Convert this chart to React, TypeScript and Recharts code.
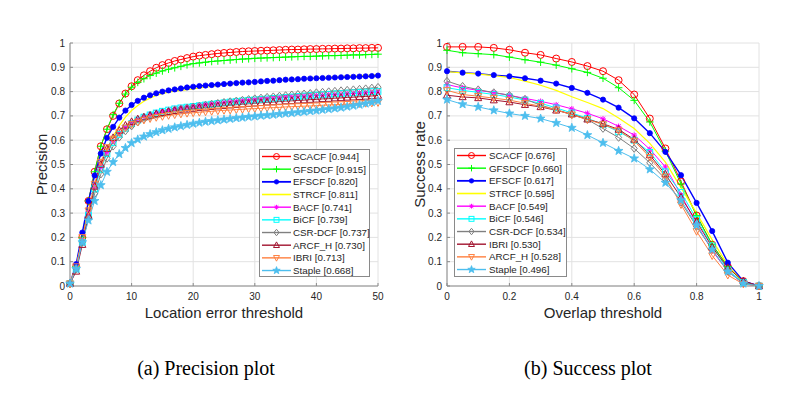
import React from 'react';
import { LineChart, Line, XAxis, YAxis, CartesianGrid, Label } from 'recharts';

// ---------- Precision plot data ----------
const precisionThresholds = [0,1,2,3,4,5,6,7,8,9,10,11,12,13,14,15,16,17,18,19,20,21,22,23,24,25,26,27,28,29,30,31,32,33,34,35,36,37,38,39,40,41,42,43,44,45,46,47,48,49,50];
const precisionSCACF = [0.01,0.08,0.20,0.35,0.47,0.575,0.645,0.70,0.751,0.792,0.822,0.847,0.867,0.884,0.898,0.909,0.918,0.926,0.932,0.938,0.944,0.948,0.951,0.954,0.957,0.959,0.961,0.963,0.965,0.966,0.967,0.968,0.969,0.970,0.971,0.972,0.973,0.973,0.974,0.975,0.975,0.976,0.976,0.977,0.977,0.978,0.978,0.979,0.979,0.980,0.980];
const precisionGFSDCF = [0.01,0.08,0.20,0.35,0.47,0.575,0.645,0.705,0.752,0.790,0.818,0.838,0.853,0.866,0.876,0.885,0.892,0.898,0.904,0.910,0.915,0.918,0.921,0.924,0.926,0.928,0.930,0.932,0.934,0.935,0.937,0.938,0.939,0.940,0.941,0.942,0.943,0.944,0.945,0.945,0.946,0.947,0.948,0.948,0.949,0.950,0.951,0.951,0.952,0.953,0.954];
const precisionEFSCF = [0.01,0.09,0.22,0.35,0.455,0.545,0.61,0.655,0.693,0.722,0.745,0.762,0.775,0.785,0.793,0.800,0.805,0.809,0.813,0.817,0.820,0.823,0.825,0.827,0.829,0.831,0.833,0.835,0.837,0.838,0.840,0.842,0.844,0.845,0.847,0.849,0.850,0.851,0.853,0.854,0.855,0.856,0.857,0.858,0.859,0.860,0.861,0.862,0.863,0.864,0.866];
const precisionSTRCF = [0.01,0.08,0.19,0.31,0.41,0.49,0.56,0.615,0.66,0.695,0.722,0.743,0.760,0.773,0.784,0.792,0.798,0.802,0.805,0.808,0.811,0.815,0.818,0.821,0.824,0.827,0.830,0.832,0.835,0.837,0.839,0.841,0.843,0.845,0.847,0.849,0.851,0.852,0.854,0.855,0.857,0.858,0.860,0.861,0.862,0.864,0.865,0.866,0.867,0.868,0.870];
const precisionBACF = [0.01,0.07,0.19,0.30,0.41,0.49,0.55,0.595,0.628,0.652,0.671,0.686,0.698,0.707,0.715,0.721,0.726,0.731,0.735,0.738,0.741,0.744,0.747,0.750,0.753,0.756,0.758,0.760,0.762,0.764,0.766,0.768,0.770,0.772,0.774,0.776,0.778,0.779,0.781,0.782,0.784,0.785,0.787,0.788,0.790,0.791,0.792,0.794,0.795,0.797,0.798];
const precisionBiCF = [0.01,0.07,0.18,0.29,0.40,0.48,0.545,0.59,0.624,0.649,0.668,0.683,0.695,0.704,0.712,0.719,0.724,0.729,0.733,0.736,0.739,0.742,0.745,0.748,0.751,0.754,0.757,0.759,0.762,0.764,0.766,0.768,0.770,0.772,0.774,0.776,0.778,0.780,0.782,0.784,0.786,0.787,0.789,0.791,0.792,0.794,0.795,0.797,0.798,0.800,0.801];
const precisionCSRDCF = [0.01,0.07,0.18,0.28,0.38,0.46,0.525,0.575,0.612,0.638,0.658,0.674,0.687,0.697,0.706,0.713,0.719,0.725,0.729,0.733,0.737,0.741,0.745,0.749,0.752,0.756,0.759,0.762,0.765,0.768,0.771,0.774,0.777,0.779,0.782,0.784,0.787,0.789,0.791,0.793,0.796,0.798,0.800,0.802,0.804,0.806,0.808,0.810,0.812,0.815,0.818];
const precisionARCFH = [0.01,0.06,0.17,0.29,0.41,0.50,0.565,0.61,0.64,0.661,0.676,0.687,0.695,0.702,0.708,0.713,0.717,0.721,0.724,0.727,0.730,0.733,0.735,0.738,0.740,0.742,0.744,0.746,0.748,0.750,0.752,0.754,0.756,0.757,0.759,0.761,0.762,0.764,0.765,0.767,0.768,0.770,0.771,0.773,0.774,0.776,0.777,0.779,0.780,0.782,0.784];
const precisionIBRI = [0.01,0.08,0.20,0.31,0.42,0.51,0.57,0.605,0.632,0.651,0.665,0.675,0.683,0.689,0.694,0.698,0.702,0.705,0.708,0.711,0.713,0.715,0.717,0.719,0.721,0.723,0.724,0.726,0.727,0.729,0.730,0.731,0.733,0.734,0.735,0.737,0.738,0.739,0.740,0.741,0.742,0.744,0.745,0.746,0.747,0.748,0.750,0.751,0.752,0.753,0.755];
const precisionStaple = [0.01,0.07,0.18,0.27,0.35,0.415,0.47,0.51,0.543,0.568,0.588,0.603,0.615,0.625,0.633,0.641,0.647,0.653,0.658,0.663,0.668,0.672,0.676,0.679,0.682,0.685,0.688,0.691,0.693,0.696,0.698,0.701,0.703,0.705,0.708,0.710,0.712,0.715,0.717,0.720,0.722,0.725,0.728,0.731,0.734,0.738,0.742,0.746,0.751,0.756,0.762];

const precisionNames = ['SCACF', 'GFSDCF', 'EFSCF', 'STRCF', 'BACF', 'BiCF', 'CSR-DCF', 'ARCF_H', 'IBRI', 'Staple'];
const precisionScores = ['0.944', '0.915', '0.820', '0.811', '0.741', '0.739', '0.737', '0.730', '0.713', '0.668'];
const precisionXTicks = [0, 10, 20, 30, 40, 50];
const yTicks = [0, 0.1, 0.2, 0.3, 0.4, 0.5, 0.6, 0.7, 0.8, 0.9, 1];

// ---------- Success plot data ----------
const successThresholds = [0,0.05,0.1,0.15,0.2,0.25,0.3,0.35,0.4,0.45,0.5,0.55,0.6,0.65,0.7,0.75,0.8,0.85,0.9,0.95,1];
const successSCACF = [0.984,0.984,0.984,0.980,0.972,0.960,0.951,0.936,0.922,0.905,0.884,0.847,0.788,0.689,0.566,0.430,0.290,0.170,0.080,0.020,0.000];
const successGFSDCF = [0.970,0.960,0.956,0.952,0.942,0.931,0.921,0.909,0.894,0.879,0.855,0.816,0.764,0.675,0.555,0.420,0.290,0.170,0.080,0.015,0.000];
const successEFSCF = [0.884,0.878,0.874,0.868,0.863,0.855,0.845,0.833,0.815,0.795,0.767,0.734,0.690,0.629,0.552,0.456,0.342,0.226,0.096,0.020,0.000];
const successSTRCF = [0.882,0.877,0.872,0.866,0.858,0.843,0.826,0.805,0.779,0.755,0.730,0.691,0.648,0.587,0.510,0.405,0.300,0.190,0.085,0.015,0.000];
const successBACF = [0.829,0.815,0.805,0.796,0.785,0.772,0.760,0.746,0.729,0.711,0.688,0.657,0.621,0.563,0.490,0.375,0.255,0.145,0.060,0.010,0.000];
const successBiCF = [0.816,0.805,0.797,0.788,0.778,0.765,0.752,0.733,0.712,0.690,0.665,0.635,0.600,0.550,0.470,0.385,0.275,0.165,0.065,0.015,0.000];
const successCSRDCF = [0.843,0.822,0.808,0.796,0.785,0.769,0.744,0.726,0.705,0.685,0.648,0.611,0.566,0.507,0.440,0.345,0.245,0.150,0.060,0.012,0.000];
const successIBRI = [0.785,0.778,0.774,0.765,0.757,0.746,0.737,0.723,0.707,0.686,0.668,0.644,0.603,0.539,0.460,0.365,0.265,0.160,0.075,0.020,0.000];
const successARCFH = [0.805,0.788,0.781,0.773,0.765,0.752,0.740,0.725,0.705,0.685,0.665,0.640,0.597,0.530,0.450,0.335,0.225,0.125,0.045,0.008,0.000];
const successStaple = [0.767,0.748,0.737,0.723,0.710,0.700,0.689,0.671,0.651,0.621,0.589,0.556,0.525,0.480,0.425,0.353,0.250,0.150,0.060,0.010,0.000];

const successNames = ['SCACF', 'GFSDCF', 'EFSCF', 'STRCF', 'BACF', 'BiCF', 'CSR-DCF', 'IBRI', 'ARCF_H', 'Staple'];
const successScores = ['0.676', '0.660', '0.617', '0.595', '0.549', '0.546', '0.534', '0.530', '0.528', '0.496'];
const successXTicks = [0, 0.2, 0.4, 0.6, 0.8, 1];

const captions = ['(a) Precision plot', '(b) Success plot'];

// ---------- tables built from the arrays ----------
const precisionSeries = [precisionSCACF, precisionGFSDCF, precisionEFSCF, precisionSTRCF, precisionBACF, precisionBiCF, precisionCSRDCF, precisionARCFH, precisionIBRI, precisionStaple];
const successSeries = [successSCACF, successGFSDCF, successEFSCF, successSTRCF, successBACF, successBiCF, successCSRDCF, successIBRI, successARCFH, successStaple];

const precisionData = precisionThresholds.map((t, i) => {
  const row: any = { x: t };
  precisionNames.forEach((n, k) => { row[n] = precisionSeries[k][i]; });
  return row;
});
const successData = successThresholds.map((t, i) => {
  const row: any = { x: t };
  successNames.forEach((n, k) => { row[n] = successSeries[k][i]; });
  return row;
});

// ---------- styles (by legend position) ----------
const STYLES = [
  { color: '#ff0000', marker: 'circle', width: 1 },
  { color: '#00ff00', marker: 'plus', width: 1 },
  { color: '#0000ff', marker: 'dot', width: 1.4 },
  { color: '#ffff00', marker: 'none', width: 1.2 },
  { color: '#ff00ff', marker: 'asterisk', width: 1 },
  { color: '#00ffff', marker: 'square', width: 1 },
  { color: '#808080', marker: 'diamond', width: 1 },
  { color: '#a2142f', marker: 'triUp', width: 1 },
  { color: '#ff8040', marker: 'triDown', width: 1 },
  { color: '#4dbeee', marker: 'star', width: 1 },
];

const FONT = '"Liberation Sans", Arial, Helvetica, sans-serif';
const TEXT = '#262626';
const BOX = '#8a8a8a';
const GRID = '#e2e2e2';

function marker(type: string, cx: number, cy: number, color: string, key: string, s = 1) {
  if (cx == null || cy == null || isNaN(cx) || isNaN(cy)) return <g key={key} />;
  switch (type) {
    case 'circle':
      return <circle key={key} cx={cx} cy={cy} r={3.5 * s} fill="none" stroke={color} strokeWidth={1} />;
    case 'plus': {
      const r = 3.8 * s;
      return <path key={key} d={`M${cx - r},${cy}H${cx + r}M${cx},${cy - r}V${cy + r}`} stroke={color} strokeWidth={1} fill="none" />;
    }
    case 'dot':
      return <circle key={key} cx={cx} cy={cy} r={2.6 * s} fill={color} stroke={color} strokeWidth={0.8} />;
    case 'asterisk': {
      const r = 2.8 * s;
      const d = r * 0.75;
      return <path key={key} d={`M${cx - r},${cy}H${cx + r}M${cx},${cy - r}V${cy + r}M${cx - d},${cy - d}L${cx + d},${cy + d}M${cx - d},${cy + d}L${cx + d},${cy - d}`} stroke={color} strokeWidth={1} fill="none" />;
    }
    case 'square': {
      const r = 2.9 * s;
      return <rect key={key} x={cx - r} y={cy - r} width={2 * r} height={2 * r} fill="none" stroke={color} strokeWidth={1} />;
    }
    case 'diamond': {
      const r = 3.8 * s;
      return <path key={key} d={`M${cx},${cy - r}L${cx + r * 0.8},${cy}L${cx},${cy + r}L${cx - r * 0.8},${cy}Z`} fill="none" stroke={color} strokeWidth={1} />;
    }
    case 'triUp': {
      const r = 3.9 * s;
      return <path key={key} d={`M${cx},${cy - r}L${cx + r * 0.9},${cy + r * 0.7}L${cx - r * 0.9},${cy + r * 0.7}Z`} fill="none" stroke={color} strokeWidth={1} />;
    }
    case 'triDown': {
      const r = 3.9 * s;
      return <path key={key} d={`M${cx},${cy + r}L${cx + r * 0.9},${cy - r * 0.7}L${cx - r * 0.9},${cy - r * 0.7}Z`} fill="none" stroke={color} strokeWidth={1} />;
    }
    case 'star': {
      const R = 4.6 * s;
      const rr = 1.9 * s;
      let d = '';
      for (let k = 0; k < 10; k++) {
        const a = -Math.PI / 2 + (k * Math.PI) / 5;
        const rad = k % 2 === 0 ? R : rr;
        d += `${k === 0 ? 'M' : 'L'}${cx + rad * Math.cos(a)},${cy + rad * Math.sin(a)}`;
      }
      return <path key={key} d={d + 'Z'} fill={color} stroke={color} strokeWidth={0.8} />;
    }
    default:
      return <g key={key} />;
  }
}

function LegendBox(props: { names: string[]; scores: string[]; left: number; top: number; width: number; height: number; lineLen: number; textX: number }) {
  const { names, scores, left, top, width, height, lineLen, textX } = props;
  const rowH = 12.67;
  const first = 7.5;
  return (
    <svg width={width} height={height} style={{ position: 'absolute', left, top }}>
      <rect x={0.5} y={0.5} width={width - 1} height={height - 1} fill="#ffffff" stroke={BOX} strokeWidth={1} />
      {names.map((n, i) => {
        const st = STYLES[i];
        const cy = first + i * rowH;
        const x0 = 3;
        const x1 = 3 + lineLen;
        return (
          <g key={n}>
            <line x1={x0} y1={cy} x2={x1} y2={cy} stroke={st.color} strokeWidth={st.width + 0.4} />
            {marker(st.marker, (x0 + x1) / 2, cy, st.color, 'm' + n, 0.85)}
            <text x={textX} y={cy + 3.5} fontSize={9.8} fill={TEXT} fontFamily={FONT}>{`${n} [${scores[i]}]`}</text>
          </g>
        );
      })}
    </svg>
  );
}

function Plot(props: { data: any[]; names: string[]; xTicks: number[]; xDomain: [number, number]; title: string; xLabel: string; yLabel: string; yAxisWidth: number; marginRight: number; yLabelOffset: number }) {
  const { data, names, xTicks, xDomain, title, xLabel, yLabel, yAxisWidth, marginRight, yLabelOffset } = props;
  const tickStyle = { fontSize: 10, fill: TEXT, fontFamily: FONT };
  return (
    <LineChart width={394} height={330} data={data} margin={{ top: 43, right: marginRight, bottom: 0, left: 0 }}>
      <CartesianGrid stroke={GRID} strokeWidth={1} />
      <XAxis
        dataKey="x"
        type="number"
        domain={xDomain}
        ticks={xTicks}
        height={44}
        tick={tickStyle}
        tickSize={-3}
        tickMargin={10}
        tickLine={{ stroke: BOX }}
        axisLine={{ stroke: BOX }}
        tickFormatter={(v: number) => String(v)}
      >
        <Label value={xLabel} position="insideBottom" offset={12} style={{ fontSize: 15, fill: TEXT, fontFamily: FONT }} />
      </XAxis>
      <XAxis
        xAxisId="top"
        orientation="top"
        type="number"
        domain={xDomain}
        ticks={xTicks}
        height={0}
        tick={false}
        tickSize={-3}
        tickLine={{ stroke: BOX }}
        axisLine={{ stroke: BOX }}
      >
        <Label value={title} position="top" offset={5} style={{ fontSize: 15, fill: TEXT, fontFamily: FONT }} />
      </XAxis>
      <YAxis
        type="number"
        domain={[0, 1]}
        ticks={yTicks}
        width={yAxisWidth}
        tick={tickStyle}
        tickSize={-3}
        tickMargin={8}
        tickLine={{ stroke: BOX }}
        axisLine={{ stroke: BOX }}
        tickFormatter={(v: number) => String(v)}
      >
        <Label value={yLabel} angle={-90} position="insideLeft" offset={yLabelOffset} style={{ fontSize: 15, fill: TEXT, fontFamily: FONT, textAnchor: 'middle' }} />
      </YAxis>
      <YAxis
        yAxisId="right"
        orientation="right"
        type="number"
        domain={[0, 1]}
        ticks={yTicks}
        width={0}
        tick={false}
        tickSize={-3}
        tickLine={{ stroke: BOX }}
        axisLine={{ stroke: BOX }}
      />
      {names.map((n, i) => {
        const st = STYLES[i];
        return (
          <Line
            key={n}
            type="linear"
            dataKey={n}
            stroke={st.color}
            strokeWidth={st.width}
            isAnimationActive={false}
            activeDot={false}
            dot={st.marker === 'none' ? false : (p: any) => marker(st.marker, p.cx, p.cy, st.color, `${n}-${p.index}`)}
          />
        );
      })}
    </LineChart>
  );
}

export default function App() {
  return (
    <div style={{ position: 'absolute', left: 0, top: 0, width: 788, height: 399, background: '#ffffff', fontFamily: FONT, overflow: 'hidden' }}>
      <div style={{ position: 'absolute', left: 0, top: 0 }}>
        <Plot data={precisionData} names={precisionNames} xTicks={precisionXTicks} xDomain={[0, 50]} title="Precision plots of OPE" xLabel="Location error threshold" yLabel="Precision" yAxisWidth={70} marginRight={16} yLabelOffset={42} />
      </div>
      <div style={{ position: 'absolute', left: 394, top: 0 }}>
        <Plot data={successData} names={successNames} xTicks={successXTicks} xDomain={[0, 1]} title="Success plots of OPE" xLabel="Overlap threshold" yLabel="Success rate" yAxisWidth={53} marginRight={29} yLabelOffset={26} />
      </div>
      <LegendBox names={precisionNames} scores={precisionScores} left={259} top={149} width={111} height={128} lineLen={29} textX={34} />
      <LegendBox names={successNames} scores={successScores} left={454} top={148} width={113} height={129} lineLen={29} textX={35} />
      <svg width={788} height={60} style={{ position: 'absolute', left: 0, top: 339 }}>
        <text x={206} y={36} textAnchor="middle" fontSize={20} fill="#000" fontFamily='"Liberation Serif", "Times New Roman", serif'>{captions[0]}</text>
        <text x={588} y={36} textAnchor="middle" fontSize={20} fill="#000" fontFamily='"Liberation Serif", "Times New Roman", serif'>{captions[1]}</text>
      </svg>
    </div>
  );
}
